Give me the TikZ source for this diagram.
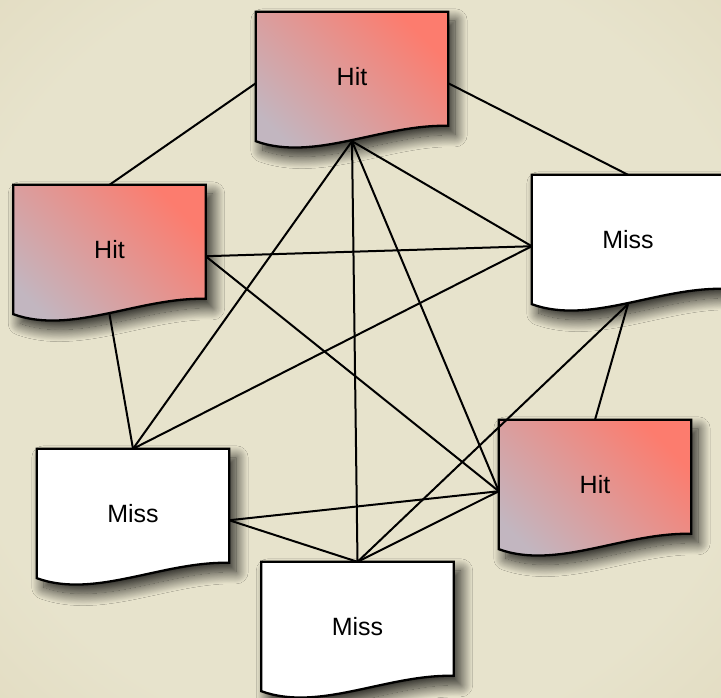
\documentclass[tikz,border=0pt]{standalone}
\usepackage{fontspec}
\setmainfont{Liberation Sans}
\usepackage{tikz}
\usetikzlibrary{backgrounds,shadows.blur}

\definecolor{paper}{RGB}{231,227,204}
\definecolor{papermid}{RGB}{220,211,180}
\definecolor{paperdark}{RGB}{198,186,148}
\definecolor{hitred}{RGB}{252,124,110}
\definecolor{hitgray}{RGB}{194,182,192}

\pgfdeclareradialshading{vignette}{\pgfpoint{0bp}{0bp}}{%
  color(0bp)=(paper); color(28bp)=(paper); color(50bp)=(papermid); color(72bp)=(paperdark)}

\tikzset{
  doc/.style={minimum width=192pt, minimum height=129pt, inner sep=0pt,
    font=\fontsize{25}{30}\selectfont},
  docline/.style={line width=2.3pt, draw=black, line join=miter},
  hit/.style={docline, bottom color=hitgray, top color=hitred, shading angle=-45},
  miss/.style={docline, fill=white},
  docshadow/.style={blur shadow={shadow xshift=7pt, shadow yshift=-9pt,
    shadow blur radius=12pt, shadow blur steps=30, shadow opacity=85}},
  link/.style={line width=2pt}
}

% document outline round a named node
\newcommand{\docpath}[2]{%
  \path[#2, docshadow] (#1.north west) -- (#1.north east) -- ([yshift=-114pt]#1.north east)
    .. controls ([xshift=-67pt,yshift=17pt]#1.south east) and ([xshift=58pt,yshift=-21pt]#1.south west)
    .. (#1.south west) -- cycle;}

\begin{document}
\begin{tikzpicture}[x=1pt, y=-1pt]
        \useasboundingbox (0,0) rectangle (721,697);

        \node[doc] (hitTop)     at (352,76.5)   {Hit};              %top
        \node[doc] (hitLeft)    at (109.5,249.5) {Hit};             %left
        \node[doc] (missRight)  at (628,239.5)  {Miss};             %right
        \node[doc] (missLeft)   at (133,513.5)  {Miss};             %lower left
        \node[doc] (missBottom) at (357.5,626.5) {Miss};            %bottom
        \node[doc] (hitRight)   at (595,484.5)  {Hit};              %lower right

        \begin{scope}[on background layer]
          \shade[shading=vignette] (0,0) rectangle (721,697);       %paper
          \docpath{hitTop}{hit}
          \docpath{hitLeft}{hit}
          \docpath{missRight}{miss}
          \docpath{missLeft}{miss}
          \docpath{missBottom}{miss}
          \docpath{hitRight}{hit}
        \end{scope}

        \draw[link] (hitTop.184)     -- (hitLeft.north);            %
        \draw[link] (hitTop.-4)      -- (missRight.north);          %
        \draw[link] (hitTop.south)   -- (missRight.184);            %
        \draw[link] (hitTop.south)   -- (missLeft.north);           %
        \draw[link] (hitTop.south)   -- (missBottom.north);         %
        \draw[link] (hitTop.south)   -- (hitRight.184);             %
        \draw[link] (hitLeft.-4)     -- (missRight.184);            %
        \draw[link] (hitLeft.-4)     -- (hitRight.184);             %
        \draw[link] (hitLeft.south)  -- (missLeft.north);           %
        \draw[link] (missRight.184)  -- (missLeft.north);           %
        \draw[link] (missRight.south) -- (missBottom.north);        %
        \draw[link] (missRight.south) -- (hitRight.north);          %
        \draw[link] (missLeft.-4)    -- (missBottom.north);         %
        \draw[link] (missLeft.-4)    -- (hitRight.184);             %
        \draw[link] (missBottom.north) -- (hitRight.184);           %
\end{tikzpicture}
\end{document}
